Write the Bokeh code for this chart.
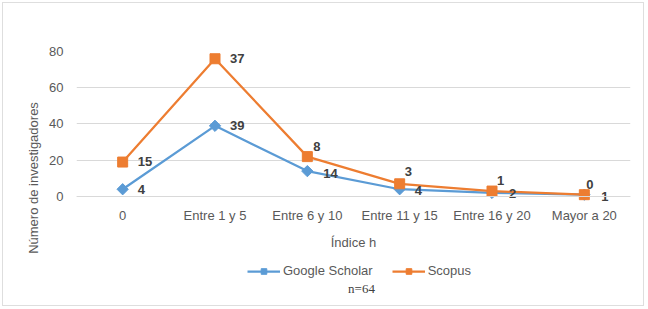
import numpy as np
from bokeh.plotting import figure
from bokeh.models import (ColumnDataSource, Range1d, FactorRange, Legend, LegendItem, Title, Label,
                          InlineStyleSheet)
from bokeh.core.properties import value
from bokeh.embed import file_html
from bokeh.resources import INLINE

categories = ["0", "Entre 1 y 5", "Entre 6 y 10", "Entre 11 y 15", "Entre 16 y 20", "Mayor a 20"]
google_scholar = [4, 39, 14, 4, 2, 1]
scopus = [15, 37, 8, 3, 1, 0]
y_ticks = [0, 20, 40, 60, 80]
n_note = "n=64"

# label offsets in pixels (style only)
gs_dx = [15, 15, 16, 15, 17, 17]
gs_dy = [0, 0, 2, 1, 1, 2]
sc_dx = [15, 15, 6, 5, 5, 2]
sc_dy = [-1, 0, -10, -12, -11, -10]

BLUE = "#5B9BD5"
ORANGE = "#ED7D31"
GRID = "#d9d9d9"
TXT = "#595959"
FONT = "Liberation Sans"
Y_MIN = -59.6  # extends the frame below the axis so legend/note fit inside it

scopus_stacked = list(np.add(google_scholar, scopus))

src_gs = ColumnDataSource(dict(x=categories, y=google_scholar, lab=[str(v) for v in google_scholar], dx=gs_dx, dy=gs_dy))
src_sc = ColumnDataSource(dict(x=categories, y=scopus_stacked, lab=[str(v) for v in scopus], dx=sc_dx, dy=sc_dy))

frame_css = InlineStyleSheet(css=""":host { position: relative; }
:host::after { content: ""; position: absolute; left: 2px; top: 2px; width: 642px; height: 304px;
  border: 1px solid #dedede; pointer-events: none; box-sizing: border-box; }""")

p = figure(width=648, height=309, x_range=FactorRange(*categories, range_padding=0),
           y_range=Range1d(Y_MIN, 80), output_backend="svg", toolbar_location=None,
           min_border_left=76, min_border_right=18, min_border_top=51, min_border_bottom=5,
           stylesheets=[frame_css])
p.outline_line_color = None
p.background_fill_color = "white"
p.border_fill_color = "white"

l1 = p.line("x", "y", source=src_gs, color=BLUE, line_width=2.25)
s1 = p.scatter("x", "y", source=src_gs, marker="square", angle=np.pi / 4, size=8, color=BLUE)
l2 = p.line("x", "y", source=src_sc, color=ORANGE, line_width=2.25)
s2 = p.scatter("x", "y", source=src_sc, marker="square", size=10, color=ORANGE)

for src in (src_gs, src_sc):
    p.text("x", "y", text="lab", source=src, x_offset="dx", y_offset="dy",
           text_align="left", text_baseline="middle", text_font=value(FONT),
           text_font_size="13px", text_font_style="bold", text_color="#404040")

p.xgrid.grid_line_color = None
p.ygrid.grid_line_color = GRID
p.ygrid.ticker = y_ticks

p.yaxis.ticker = y_ticks
p.yaxis.axis_line_color = None
p.yaxis.major_tick_line_color = None
p.yaxis.minor_tick_line_color = None
p.yaxis.major_tick_out = 0
p.yaxis.minor_tick_out = 0
p.yaxis.major_label_standoff = 13

p.xaxis.fixed_location = 0
p.xaxis.axis_line_color = GRID
p.xaxis.major_tick_line_color = None
p.xaxis.minor_tick_line_color = None
p.xaxis.major_tick_out = 0
p.xaxis.minor_tick_out = 0
p.xaxis.major_label_standoff = 12
p.xaxis.axis_label = "Índice h"
p.xaxis.axis_label_standoff = 8

for ax in (p.xaxis[0], p.yaxis[0]):
    ax.major_label_text_font = FONT
    ax.major_label_text_font_size = "13px"
    ax.major_label_text_color = TXT
    ax.axis_label_text_font = FONT
    ax.axis_label_text_font_size = "13px"
    ax.axis_label_text_color = TXT
    ax.axis_label_text_font_style = "normal"

ytitle = Title(text="Número de investigadores", align="center", offset=32, text_font=FONT,
               text_font_size="13px", text_font_style="normal", text_color=TXT, standoff=11)
p.add_layout(ytitle, "left")

legend = Legend(items=[LegendItem(label="Google Scholar", renderers=[l1, s1]),
                       LegendItem(label="Scopus", renderers=[l2, s2])],
                orientation="horizontal", location=(171, 26),
                border_line_color=None, background_fill_alpha=0, padding=0, margin=0,
                glyph_width=33, glyph_height=14, label_height=14, label_standoff=3, spacing=19,
                label_text_font=FONT, label_text_font_size="13px", label_text_color=TXT)
p.add_layout(legend, "center")

note = Label(x=285, y=16, x_units="screen", y_units="screen", text=n_note,
             text_align="center", text_baseline="middle", text_font="Liberation Serif",
             text_font_size="13px", text_color="#404040")
p.add_layout(note)

open("out.html", "w").write(file_html(p, INLINE))
